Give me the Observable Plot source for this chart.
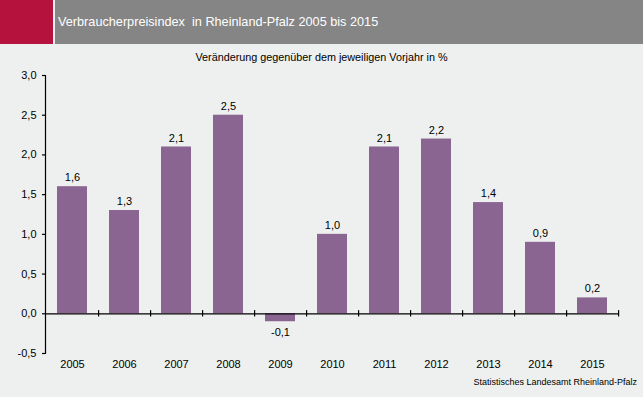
<!DOCTYPE html>
<html><head><meta charset="utf-8">
<script src="https://cdn.jsdelivr.net/npm/d3@7"></script>
<script src="https://cdn.jsdelivr.net/npm/@observablehq/plot@0.6"></script>
<style>
body{margin:0;background:#eef0ef;font-family:"Liberation Sans",Arial,sans-serif;}
#wrap{position:relative;width:643px;height:397px;overflow:hidden;background:#eef0ef;}
#red{position:absolute;left:0;top:0;width:53px;height:44px;background:#b5123e;}
#head{position:absolute;left:55px;top:0;width:588px;height:44px;background:#858585;color:#fff;font-size:12.7px;line-height:44px;padding-left:3px;box-sizing:border-box;white-space:pre;}
#sub{position:absolute;left:0;width:643px;top:51px;text-align:center;font-size:10.8px;color:#000;padding-left:0px;}
#src{position:absolute;right:6px;top:377px;font-size:9px;color:#000;}
#chart{position:absolute;left:0;top:0;}
</style></head>
<body><div id="wrap">
<div id="chart"></div>
<div id="red"></div>
<div id="head">Verbraucherpreisindex  in Rheinland-Pfalz 2005 bis 2015</div>
<div id="sub">Veränderung gegenüber dem jeweiligen Vorjahr in %</div>
<div id="src">Statistisches Landesamt Rheinland-Pfalz</div>
</div>
<script>
const years = ["2005","2006","2007","2008","2009","2010","2011","2012","2013","2014","2015"];
const values = [1.6,1.3,2.1,2.5,-0.1,1.0,2.1,2.2,1.4,0.9,0.2];
const yTicks = [-0.5,0,0.5,1,1.5,2,2.5,3];
const data = years.map((y,i)=>({year:y,value:values[i]}));
const loc = d3.formatLocale({decimal:",",thousands:".",grouping:[3],currency:["","€"],minus:"-"});
const fmt = loc.format(".1f");
const de = v => fmt(v);
const W=643,H=397,mL=45,mR=24;
const step=(W-mL-mR)/years.length;
const chart = Plot.plot({
  width:W,height:H,marginLeft:mL,marginRight:mR,marginTop:75,marginBottom:44,
  style:{background:"transparent",fontFamily:"Liberation Sans, Arial, sans-serif",fontSize:"11px",color:"#000"},
  x:{domain:years,paddingInner:0.42,paddingOuter:0.21},
  y:{domain:[-0.5,3]},
  marks:[
    Plot.barY(data,{x:"year",y:"value",fill:"#8a6591"}),
    Plot.ruleY([0],{stroke:"#000",strokeWidth:1.2}),
    Plot.ruleX(years,{x:d=>d,dx:step/2,y1:-0.04,y2:0.04,stroke:"#000",strokeWidth:1.2}),
    Plot.frame({anchor:"left",stroke:"#000",strokeWidth:1.2}),
    Plot.axisY({ticks:yTicks,tickFormat:de,tickSize:3,tickPadding:6,fontSize:11,stroke:"#000",strokeWidth:1.2}),
    Plot.axisX({tickSize:0,tickPadding:7,fontSize:11,label:null}),
    Plot.text(data.filter(d=>d.value>=0),{x:"year",y:"value",text:d=>de(d.value),dy:-9,fontSize:11,fill:"#000"}),
    Plot.text(data.filter(d=>d.value<0),{x:"year",y:"value",text:d=>de(d.value),dy:11,fontSize:11,fill:"#000"})
  ]
});
document.getElementById("chart").appendChild(chart);
</script>
</body></html>
